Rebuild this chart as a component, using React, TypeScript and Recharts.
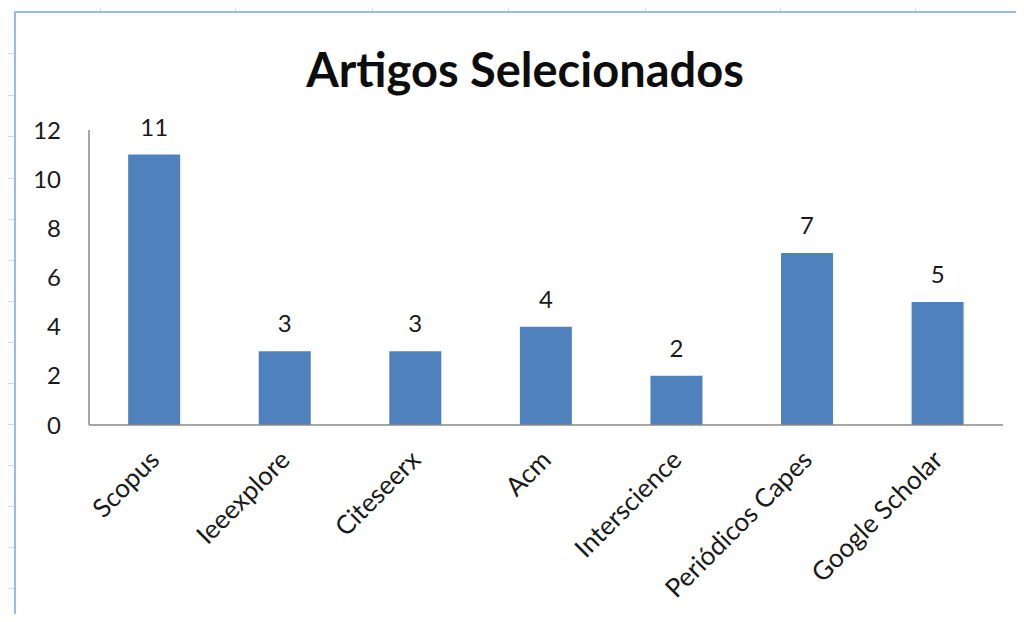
import React from "react";
import { BarChart, Bar, XAxis, YAxis, LabelList } from "recharts";

const categories = [
  "Scopus",
  "Ieeexplore",
  "Citeseerx",
  "Acm",
  "Interscience",
  "Periódicos Capes",
  "Google Scholar",
];
const artigos = [11, 3, 3, 4, 2, 7, 5];
const yTicks = [0, 2, 4, 6, 8, 10, 12];

const data = categories.map((name, i) => ({ name, value: artigos[i] }));

const FONT = "Lato, Carlito, Calibri, sans-serif";

// spreadsheet cell lines peeking out around the chart
const colMarks = [100, 235, 372, 508, 645, 780, 915];
const rowMarks = [53, 95, 136, 178, 219, 260, 301, 342, 383, 424, 465, 506, 547, 588];

function CategoryTick(props: any) {
  const { x, y, payload } = props;
  return (
    <g transform={`translate(${x + 1},${y + 23}) rotate(-45)`}>
      <text textAnchor="end" fill="#1a1a1a" fontSize={26} fontFamily={FONT} dy={8}>
        {payload.value}
      </text>
    </g>
  );
}

export default function App() {
  return (
    <div style={{ position: "relative", width: 1024, height: 622, background: "#fff", overflow: "hidden", margin: -8 }}>
      {colMarks.map((x) => (
        <div key={"c" + x} style={{ position: "absolute", left: x, top: 3, width: 1, height: 9, background: "#d9d9d9" }} />
      ))}
      {rowMarks.map((y) => (
        <div key={"r" + y} style={{ position: "absolute", left: 7, top: y, width: 8, height: 1, background: "#d9d9d9" }} />
      ))}
      <div
        style={{
          position: "absolute",
          left: 14,
          top: 11,
          width: 1100,
          height: 700,
          borderLeft: "2px solid #9db9e8",
          borderTop: "2px solid #9db9e8",
          background: "#fff",
        }}
      />
      <div style={{ position: "absolute", left: 0, top: 620, width: 1024, height: 1, background: "#e8e8e8" }} />
      <div
        style={{
          position: "absolute",
          left: 0,
          top: 39,
          width: 1050,
          textAlign: "center",
          fontFamily: FONT,
          fontWeight: 700,
          fontSize: 47,
          lineHeight: "60px",
          color: "#0d0d0d",
        }}
      >
        Artigos Selecionados
      </div>
      <div style={{ position: "absolute", left: 0, top: 0 }}>
        <BarChart
          width={1024}
          height={622}
          data={data}
          margin={{ top: 130, right: 21, bottom: 0, left: 29 }}
          barCategoryGap="30%"
        >
          <XAxis
            dataKey="name"
            height={197}
            interval={0}
            tickLine={false}
            axisLine={{ stroke: "#888", strokeWidth: 1.5 }}
            tick={<CategoryTick />}
          />
          <YAxis
            width={60}
            domain={[0, 12]}
            ticks={yTicks}
            tickLine={false}
            tickSize={0}
            tickMargin={28}
            axisLine={{ stroke: "#888", strokeWidth: 1.5 }}
            tick={{ fill: "#1a1a1a", fontSize: 24, fontFamily: FONT }}
          />
          <Bar dataKey="value" fill="#4f81bd" isAnimationActive={false}>
            <LabelList
              dataKey="value"
              position="top"
              offset={19}
              fill="#1a1a1a"
              fontSize={24}
              fontFamily={FONT}
            />
          </Bar>
        </BarChart>
      </div>
    </div>
  );
}
